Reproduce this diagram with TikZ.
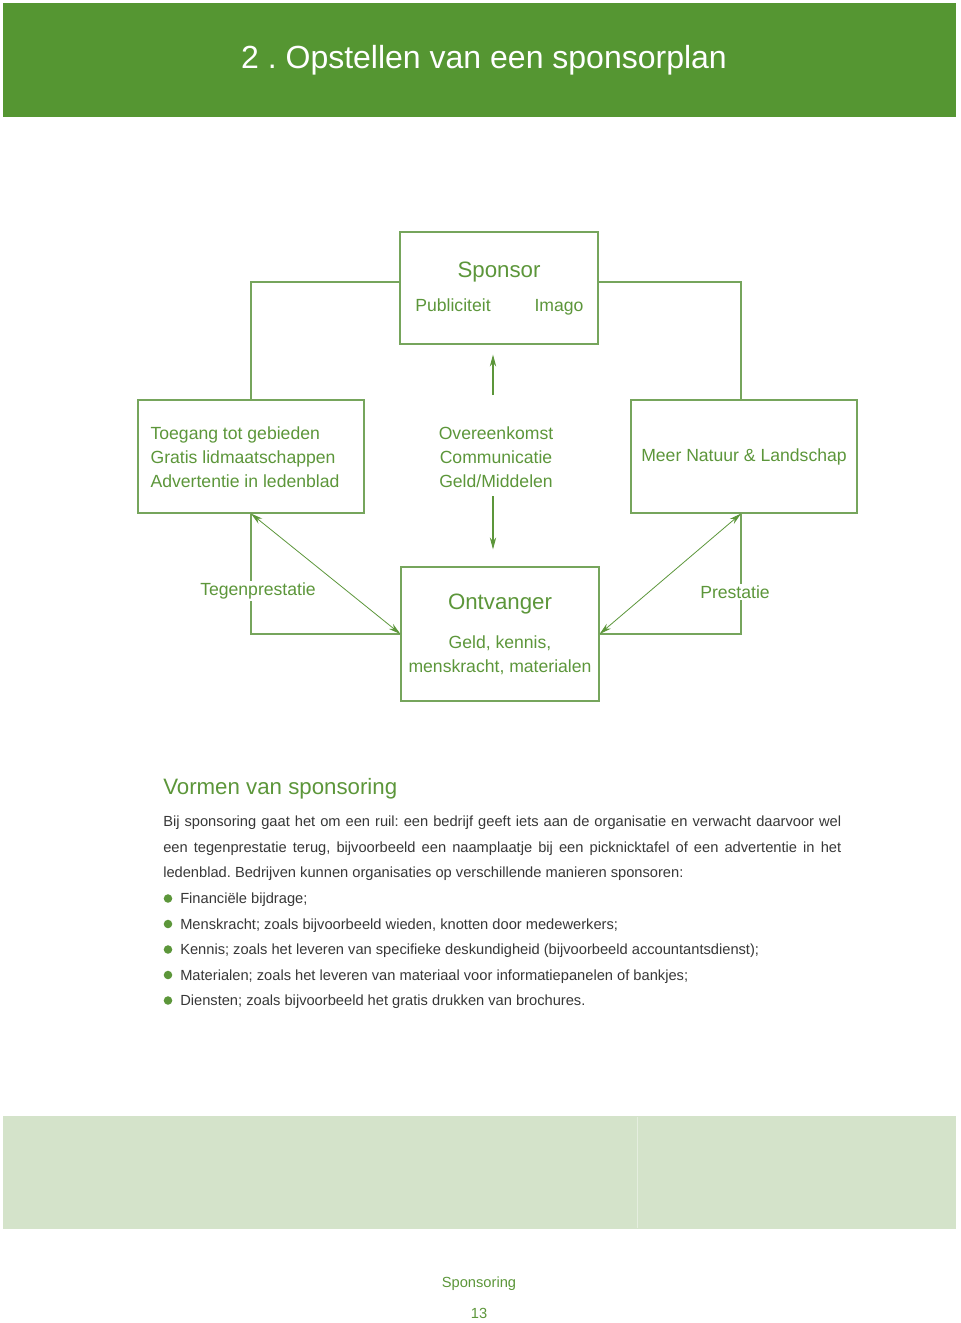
\documentclass[tikz,border=0pt]{standalone}
\usepackage{fontspec}
\setmainfont{Liberation Sans}
\usetikzlibrary{arrows.meta}
\definecolor{headgreen}{RGB}{85,150,50}
\definecolor{txtgreen}{RGB}{92,150,58}
\definecolor{linegreen}{RGB}{118,165,92}
\definecolor{bandgreen}{RGB}{212,227,202}
\definecolor{bodygray}{RGB}{55,55,55}
\frenchspacing
\begin{document}
\begin{tikzpicture}[x=0.75pt,y=-0.75pt,
  box/.style={draw=linegreen,line width=0.9pt,inner sep=0pt},
  lbl/.style={text=txtgreen,font=\fontsize{13.2}{18}\selectfont,inner sep=1pt},
  big/.style={text=txtgreen,font=\fontsize{16.7}{20}\selectfont,inner sep=0pt},
  body/.style={text=bodygray,font=\fontsize{11}{19}\selectfont,inner sep=0pt},
  tip/.style={-{Stealth[length=9pt,width=4.8pt]}},
  flow/.style={draw=txtgreen,line width=0.8pt,tip},
  dbl/.style={draw=txtgreen,line width=0.6pt,{Stealth[length=9pt,width=4.8pt]}-{Stealth[length=9pt,width=4.8pt]}}]
\useasboundingbox (0,0) rectangle (960,1323);
% header
\fill[headgreen] (3,3) rectangle (956,117);
\node[text=white,font=\fontsize{24}{28}\selectfont] (title) at (484,60) {2 . Opstellen van een sponsorplan};
% boxes
\node[box,minimum width=148.5pt,minimum height=84pt] (sponsor) at (499,288) {};
\node[big] (sponsortxt) at (499,272) {Sponsor};
\node[lbl,anchor=base] (publ) at (453,311) {Publiciteit};
\node[lbl,anchor=base] (imago) at (559,311) {Imago};
\node[box,minimum width=169.5pt,minimum height=84.75pt] (toegang) at (251,456.5) {};
\node[lbl,align=left,anchor=west] (toegangtxt) at (149,457) {Toegang tot gebieden\\Gratis lidmaatschappen\\Advertentie in ledenblad};
\node[box,minimum width=169.5pt,minimum height=84.75pt] (natuur) at (744,456.5) {};
\node[lbl] (natuurtxt) at (744,457) {Meer Natuur \& Landschap};
\node[lbl,align=center] (ovk) at (496,457) {Overeenkomst\\Communicatie\\Geld/Middelen};
\node[box,minimum width=148.5pt,minimum height=100.5pt] (ontvanger) at (500,634) {};
\node[big] (ontvangertxt) at (500,604) {Ontvanger};
\node[lbl,align=center] (middelen) at (500,655) {Geld, kennis,\\menskracht, materialen};
% connectors
\draw[linegreen,line width=0.9pt] ([yshift=4.5pt]sponsor.west) -| (toegang.north);
\draw[linegreen,line width=0.9pt] ([yshift=4.5pt]sponsor.east) -| ([xshift=-2.25pt]natuur.north);
\coordinate (up) at (493,395);
\coordinate (down) at (493,496);
\draw[flow,shorten >=7.5pt] (up) -- (up |- sponsor.south);
\draw[flow,shorten >=12.75pt] (down) -- (down |- ontvanger.north);
\draw[linegreen,line width=0.9pt] (toegang.south) |- (ontvanger.west);
\draw[linegreen,line width=0.9pt] ([xshift=-2.25pt]natuur.south) |- (ontvanger.east);
\draw[dbl] (toegang.south) -- (ontvanger.west);
\draw[dbl] ([xshift=-2.25pt]natuur.south) -- (ontvanger.east);
\node[lbl,fill=white] (tegen) at (258,591) {Tegenprestatie};
\node[lbl,fill=white] (prest) at (735,592) {Prestatie};
% text
\node[big,anchor=west] (vormen) at (163,789) {Vormen van sponsoring};
\node[body,anchor=west] (line1) at (163,823) {\makebox[508.5pt][s]{Bij sponsoring gaat het om een ruil: een bedrijf geeft iets aan de organisatie en verwacht daarvoor wel}};
\node[body,anchor=west] (line2) at (163,849) {\makebox[508.5pt][s]{een tegenprestatie terug, bijvoorbeeld een naamplaatje bij een picknicktafel of een advertentie in het}};
\node[body,anchor=west] (line3) at (163,874) {ledenblad. Bedrijven kunnen organisaties op verschillende manieren sponsoren:};
\foreach \t [count=\i, evaluate=\i as \y using 900+25.5*(\i-1)] in
  {{Financiële bijdrage;},
   {Menskracht; zoals bijvoorbeeld wieden, knotten door medewerkers;},
   {Kennis; zoals het leveren van specifieke deskundigheid (bijvoorbeeld accountantsdienst);},
   {Materialen; zoals het leveren van materiaal voor informatiepanelen of bankjes;},
   {Diensten; zoals bijvoorbeeld het gratis drukken van brochures.}} {
  \fill[txtgreen] (168,\y-1.5) circle (3.2pt);
  \node[body,anchor=west] (item\i) at (180,\y) {\t};
}
% band and footer
\fill[bandgreen] (3,1116) rectangle (956,1229);
\draw[white!40!bandgreen,line width=0.4pt] (637,1117) -- (637,1228);
\node[text=txtgreen,font=\fontsize{11}{13}\selectfont] (footer) at (479,1284) {Sponsoring};
\node[text=txtgreen,font=\fontsize{11}{13}\selectfont] (page) at (479,1313) {13};
\end{tikzpicture}
\end{document}
